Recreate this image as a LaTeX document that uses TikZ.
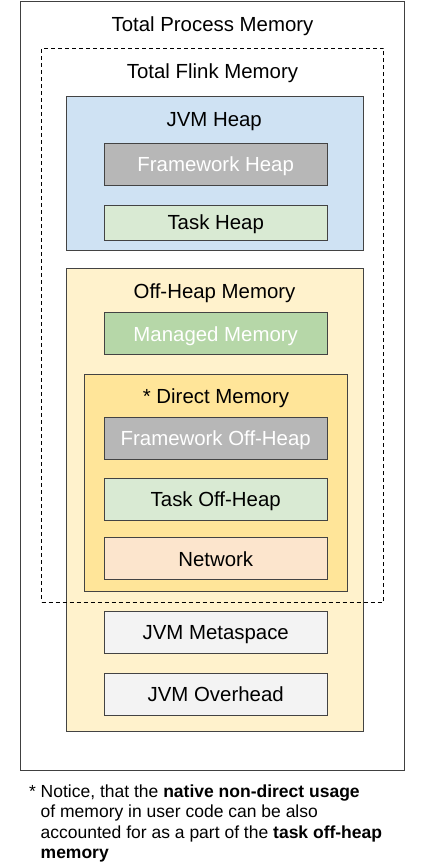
\documentclass[tikz,border=0pt]{standalone}
\usepackage{fontspec}
\setmainfont{Liberation Sans}
\usepackage{tikz}

\definecolor{heapblue}{HTML}{CFE2F3}
\definecolor{frameworkgray}{HTML}{B7B7B7}
\definecolor{taskgreen}{HTML}{D9EAD3}
\definecolor{offheapyellow}{HTML}{FFF2CC}
\definecolor{managedgreen}{HTML}{B6D7A8}
\definecolor{directyellow}{HTML}{FFE599}
\definecolor{networkorange}{HTML}{FCE5CD}
\definecolor{jvmgray}{HTML}{F3F3F3}
\definecolor{edgegray}{HTML}{434343}

\tikzset{
  region/.style={draw=edgegray, line width=1pt, inner sep=0pt},
  block/.style={region, minimum width=223pt, minimum height=42pt,
    text height=14.6pt, text depth=0pt},
  title/.style={anchor=base, inner sep=0pt},
  note/.style={anchor=base west, inner sep=0pt, font=\fontsize{17.5}{21}\selectfont},
}

\begin{document}
\begin{tikzpicture}[x=1pt, y=-1pt, font=\fontsize{20.4}{24}\selectfont]
\useasboundingbox (0,0) rectangle (425,868);
% outer frame
\node[region, draw=black!75, minimum width=384pt, minimum height=769pt] (process) at (212.5,385.5) {};
\node[title] (processtitle) at (212.5,31.5) {Total Process Memory};
\node[title] (flinktitle) at (212.5,78.5) {Total Flink Memory};
% heap
\node[region, fill=heapblue, minimum width=297.5pt, minimum height=154pt] (heap) at (214.75,173.5) {};
\node[title] (heaptitle) at (214.2,126) {JVM Heap};
\node[block, fill=frameworkgray, text=white] (fwheap) at (215.7,164) {Framework Heap};
\node[block, fill=taskgreen, minimum height=35pt] (taskheap) at (215.7,222.5) {Task Heap};
% off-heap
\node[region, fill=offheapyellow, minimum width=297.5pt, minimum height=463pt] (offheap) at (214.75,499.5) {};
\node[title] (offheaptitle) at (214.5,298.3) {Off-Heap Memory};
\node[block, fill=managedgreen, text=white] (managed) at (215.7,333.7) {Managed Memory};
% direct
\node[region, fill=directyellow, minimum width=263.5pt, minimum height=217.5pt] (direct) at (215.75,482.75) {};
\node[title] (directtitle) at (216,403.3) {* Direct Memory};
\node[block, fill=frameworkgray, text=white] (fwoffheap) at (215.7,438) {Framework Off-Heap};
\node[block, fill=taskgreen] (taskoffheap) at (215.7,499.5) {Task Off-Heap};
\node[block, fill=networkorange] (network) at (215.7,558.7) {Network};
% jvm
\node[block, fill=jvmgray] (metaspace) at (215.7,632.3) {JVM Metaspace};
\node[block, fill=jvmgray] (overhead) at (215.7,694.5) {JVM Overhead};
% flink boundary on top
\node[draw=black, line width=1pt, dash pattern=on 4pt off 3pt, inner sep=0pt,
  minimum width=342pt, minimum height=554pt] (flink) at (212.5,325) {};
% footnote
\node[note] (note1) at (40.5,797) {\llap{* }Notice, that the \textbf{native non-direct usage}};
\node[note] (note2) at (40.5,817.5) {of memory in user code can be also};
\node[note] (note3) at (40.5,838) {accounted for as a part of the \textbf{task off-heap}};
\node[note] (note4) at (40.5,858.5) {\textbf{memory}};
\end{tikzpicture}
\end{document}
